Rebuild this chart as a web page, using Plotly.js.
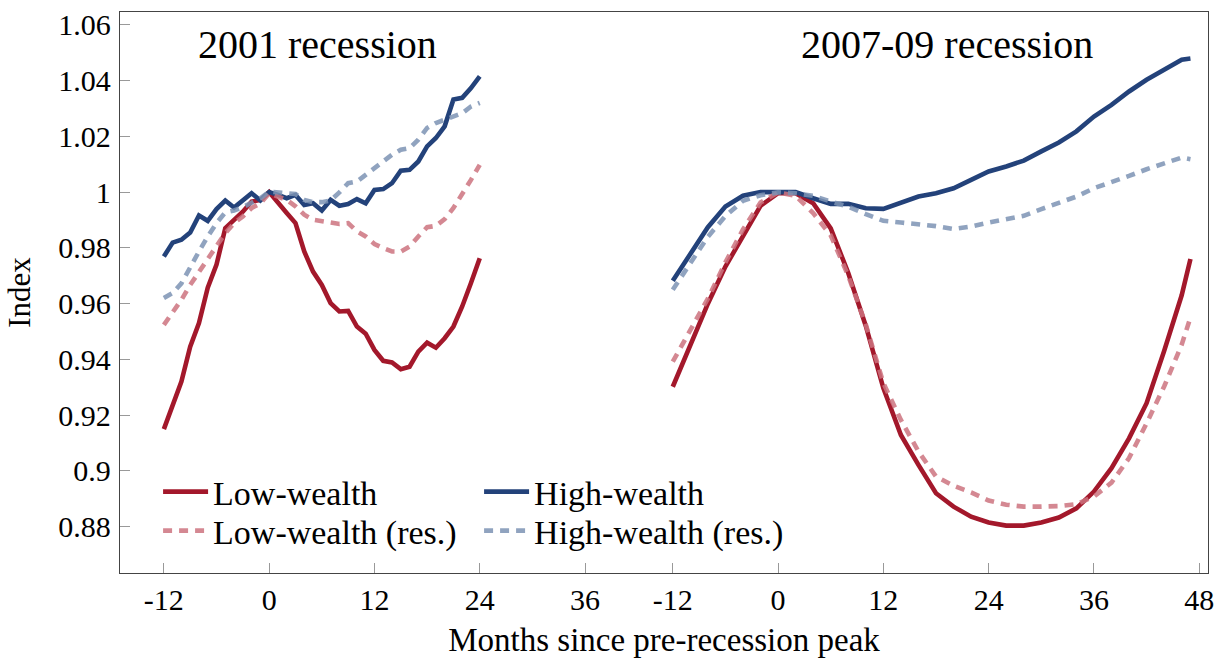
<!DOCTYPE html>
<html>
<head>
<meta charset="utf-8">
<script src="https://cdn.plot.ly/plotly-3.0.1.min.js"></script>
<style>html,body{margin:0;padding:0;background:#fff}#chart{width:1217px;height:658px}</style>
</head>
<body>
<div id="chart"></div>
<script>
// ---- data ----
const months2001 = [-12,-11,-10,-9,-8,-7,-6,-5,-4,-3,-2,-1,0,1,2,3,4,5,6,7,8,9,10,11,12,13,14,15,16,17,18,19,20,21,22,23,24];
const low2001     = [0.9150,0.9236,0.9321,0.9446,0.9530,0.9657,0.9740,0.9871,0.9901,0.9930,0.9966,0.9972,1.0000,0.9960,0.9925,0.9889,0.9787,0.9715,0.9667,0.9602,0.9572,0.9574,0.9518,0.9492,0.9434,0.9395,0.9389,0.9365,0.9374,0.9428,0.9460,0.9442,0.9476,0.9518,0.9590,0.9674,0.9763];
const high2001    = [0.9769,0.9819,0.9829,0.9855,0.9916,0.9897,0.9939,0.9970,0.9945,0.9972,0.9996,0.9970,1.0000,0.9990,0.9978,0.9990,0.9954,0.9960,0.9934,0.9972,0.9951,0.9957,0.9975,0.9960,1.0008,1.0011,1.0032,1.0077,1.0080,1.0110,1.0164,1.0194,1.0236,1.0332,1.0338,1.0373,1.0415];
const lowRes2001  = [0.9524,0.9566,0.9614,0.9667,0.9715,0.9763,0.9805,0.9853,0.9889,0.9913,0.9943,0.9960,0.9996,0.9984,0.9972,0.9949,0.9919,0.9901,0.9895,0.9891,0.9886,0.9889,0.9859,0.9841,0.9814,0.9799,0.9787,0.9787,0.9805,0.9841,0.9874,0.9879,0.9903,0.9943,0.9990,1.0044,1.0098];
const highRes2001 = [0.9620,0.9638,0.9673,0.9733,0.9787,0.9841,0.9889,0.9927,0.9934,0.9946,0.9960,0.9978,1.0002,0.9999,0.9999,0.9993,0.9972,0.9964,0.9964,0.9970,0.9999,1.0032,1.0038,1.0062,1.0086,1.0110,1.0134,1.0152,1.0158,1.0188,1.0230,1.0248,1.0259,1.0271,1.0283,1.0307,1.0320];

const months2007 = [-12,-10,-8,-6,-4,-2,0,2,4,6,8,10,12,14,16,18,20,22,24,26,28,30,32,34,36,38,40,42,44,46,47];
const low2007     = [0.9302,0.9451,0.9600,0.9733,0.9839,0.9951,0.9996,0.9996,0.9960,0.9870,0.9710,0.9520,0.9297,0.9129,0.9022,0.8920,0.8872,0.8836,0.8815,0.8804,0.8804,0.8815,0.8833,0.8866,0.8926,0.9010,0.9117,0.9243,0.9430,0.9630,0.9760];
const high2007    = [0.9682,0.9779,0.9874,0.9948,0.9987,1.0000,1.0002,1.0000,0.9978,0.9958,0.9958,0.9942,0.9940,0.9960,0.9984,0.9996,1.0014,1.0044,1.0074,1.0092,1.0113,1.0146,1.0178,1.0218,1.0271,1.0313,1.0361,1.0403,1.0441,1.0475,1.0479];
const lowRes2007  = [0.9392,0.9506,0.9618,0.9748,0.9866,0.9963,0.9999,0.9987,0.9925,0.9845,0.9700,0.9525,0.9315,0.9183,0.9070,0.8980,0.8947,0.8923,0.8894,0.8879,0.8872,0.8872,0.8874,0.8881,0.8908,0.8958,0.9046,0.9171,0.9303,0.9453,0.9550];
const highRes2007 = [0.9650,0.9743,0.9840,0.9914,0.9969,0.9989,0.9999,0.9996,0.9987,0.9966,0.9948,0.9921,0.9897,0.9891,0.9886,0.9878,0.9868,0.9877,0.9891,0.9901,0.9915,0.9939,0.9963,0.9984,1.0014,1.0035,1.0058,1.0082,1.0104,1.0124,1.0118];

const ticks2001 = [-12,0,12,24,36];
const ticks2007 = [-12,0,12,24,36,48];
const seriesNames = ['Low-wealth','High-wealth','Low-wealth (res.)','High-wealth (res.)'];
const panelTitles = ['2001 recession','2007-09 recession'];

// ---- build ----
const OFFSET = 58; // horizontal shift of the 2007-09 panel on the shared axis
const FONT = '"Liberation Serif","DejaVu Serif",serif';

function joinX(){ return months2001.concat([null], months2007.map(m => m + OFFSET)); }
function joinY(a, b){ return a.concat([null], b); }

const colRed = '#a3182b', colBlue = '#23427a', colPink = 'rgba(205,115,127,0.85)', colLBlue = 'rgba(125,147,180,0.85)';
const DASH = '9px,7px';
const W = 4.6;

const traces = [
  {y: joinY(low2001, low2007), name: seriesNames[0], line:{color:colRed, width:W}, legend:'legend', legendrank:1},
  {y: joinY(high2001, high2007), name: seriesNames[1], line:{color:colBlue, width:W}, legend:'legend', legendrank:2},
  {y: joinY(lowRes2001, lowRes2007), name: seriesNames[2], line:{color:colPink, width:W, dash:DASH}, legend:'legend2', legendrank:1},
  {y: joinY(highRes2001, highRes2007), name: seriesNames[3], line:{color:colLBlue, width:W, dash:DASH}, legend:'legend2', legendrank:2}
].map(t => Object.assign({type:'scatter', mode:'lines', x: joinX(), connectgaps:false, hoverinfo:'skip'}, t));

const tickvals = ticks2001.concat(ticks2007.map(t => t + OFFSET));
const ticktext = ticks2001.concat(ticks2007).map(String);

const legendCommon = {
  bgcolor:'rgba(0,0,0,0)', borderwidth:0, orientation:'h',
  font:{family:FONT, size:34, color:'#000'}, itemwidth:45,
  entrywidth:261, entrywidthmode:'pixels',
  xanchor:'left', yanchor:'middle', x:0.035
};

const layout = {
  width:1217, height:658,
  margin:{l:120, r:9, t:12, b:85},
  paper_bgcolor:'#fff', plot_bgcolor:'#fff',
  font:{family:FONT, color:'#000'},
  showlegend:true,
  legend: Object.assign({y:0.1444}, legendCommon),
  legend2: Object.assign({y:0.0749}, legendCommon),
  xaxis:{
    range:[-17,107], tickmode:'array', tickvals:tickvals, ticktext:ticktext,
    showgrid:false, zeroline:false, showline:true, mirror:true, linecolor:'#444', linewidth:1.3,
    ticks:'inside', ticklen:10, tickcolor:'#999', tickwidth:1,
    tickfont:{family:FONT, size:30, color:'#000'}, ticklabelstandoff:0,
    title:{text:'Months since pre-recession peak', font:{family:FONT, size:33, color:'#000'}, standoff:19}
  },
  yaxis:{
    range:[0.8634,1.0646], tickmode:'array',
    tickvals:[0.88,0.9,0.92,0.94,0.96,0.98,1,1.02,1.04,1.06],
    ticktext:['0.88','0.9','0.92','0.94','0.96','0.98','1','1.02','1.04','1.06'],
    showgrid:false, zeroline:false, showline:true, mirror:true, linecolor:'#444', linewidth:1.3,
    ticks:'inside', ticklen:10, tickcolor:'#999', tickwidth:1,
    tickfont:{family:FONT, size:30, color:'#000'}, ticklabelstandoff:2,
    title:{text:'Index', font:{family:FONT, size:31, color:'#000'}, standoff:18}
  },
  annotations:[
    {x:5.5, y:1.0528, xref:'x', yref:'y', text:panelTitles[0], showarrow:false, font:{family:FONT, size:40, color:'#000'}},
    {x:OFFSET+19.3, y:1.0528, xref:'x', yref:'y', text:panelTitles[1], showarrow:false, font:{family:FONT, size:40, color:'#000'}}
  ]
};

Plotly.newPlot('chart', traces, layout, {displayModeBar:false, staticPlot:true});
</script>
</body>
</html>
